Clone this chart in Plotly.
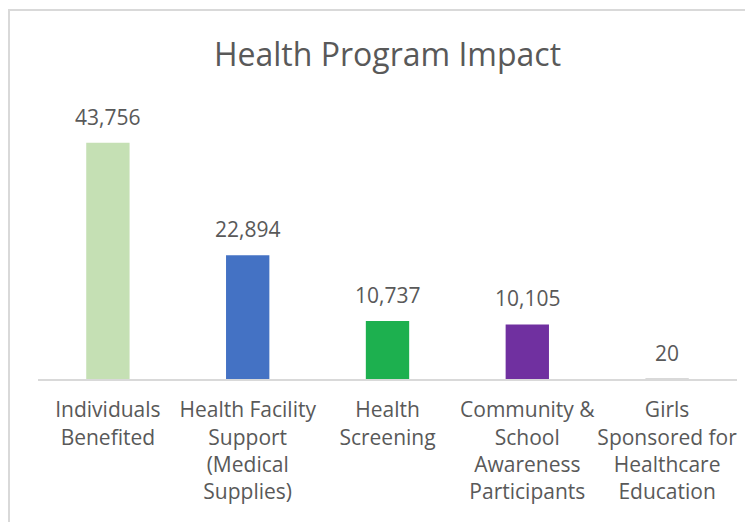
import plotly.graph_objects as go

categories = [
    "Individuals<br>Benefited",
    "Health Facility<br>Support<br>(Medical<br>Supplies)",
    "Health<br>Screening",
    "Community &amp;<br>School<br>Awareness<br>Participants",
    "Girls<br>Sponsored for<br>Healthcare<br>Education",
]
values = [43756, 22894, 10737, 10105, 20]
bar_colors = ["#c5e0b4", "#4472c4", "#1db04f", "#7030a0", "#d9d9d9"]
title_text = "Health Program Impact"

FONT = "Open Sans"
GRAY = "#595959"

fig = go.Figure()
fig.add_trace(go.Bar(
    x=categories,
    y=values,
    marker=dict(color=bar_colors, line=dict(width=0)),
    width=0.31,
    hoverinfo="skip",
))

for c, v in zip(categories, values):
    fig.add_annotation(
        x=c, y=v, text=f"{v:,}", showarrow=False,
        yanchor="bottom", yshift=10,
        font=dict(family=FONT, size=21, color=GRAY),
    )

fig.add_shape(
    type="rect", xref="paper", yref="paper",
    x0=-0.0415, x1=1.2, y0=-1.0, y1=1.3667,
    line=dict(color="#d9d9d9", width=2), fillcolor="rgba(0,0,0,0)",
    layer="below",
)

fig.update_layout(
    width=745, height=514,
    margin=dict(l=30, r=16, t=101, b=143),
    paper_bgcolor="white", plot_bgcolor="white",
    showlegend=False,
    title=dict(
        text=title_text, x=0.5, xref="paper", xanchor="center",
        y=1 - 47 / 514, yref="container", yanchor="middle",
        font=dict(family=FONT, size=32, color=GRAY),
    ),
    xaxis=dict(
        showline=True, linecolor="#d9d9d9", linewidth=2,
        ticks="", showgrid=False, zeroline=False,
        tickfont=dict(family=FONT, size=21, color=GRAY),
        tickangle=0, ticklabelstandoff=11,
    ),
    yaxis=dict(
        range=[0, 50000], visible=False, showgrid=False, zeroline=False,
    ),
)

fig.write_html("out.html")
